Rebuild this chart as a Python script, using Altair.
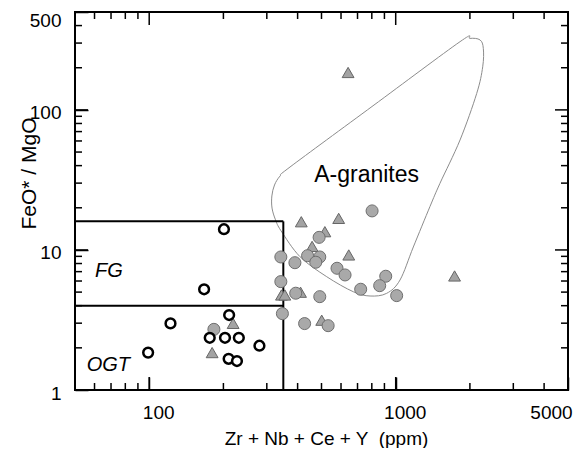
import altair as alt
import pandas as pd

FONT = "Liberation Sans"
W, H = 493, 378

# ---- data (Zr+Nb+Ce+Y ppm, FeO*/MgO) ----
open_x = [201, 167, 211, 122, 176, 203, 231, 280, 99, 210, 227]
open_y = [14.06, 5.24, 3.43, 2.99, 2.36, 2.36, 2.36, 2.07, 1.85, 1.67, 1.61]

gray_x = [802, 489, 342, 390, 439, 492, 474, 578, 623, 911, 342, 721, 861, 393, 492, 1009, 347, 427, 532, 183]
gray_y = [19.0, 12.3, 8.91, 8.11, 9.10, 8.91, 8.17, 7.40, 6.63, 6.49, 5.94, 5.24, 5.56, 4.91, 4.64, 4.72, 3.51, 2.98, 2.88, 2.71]

tri_x = [641, 414, 587, 516, 458, 645, 1733, 344, 355, 411, 501, 219, 180]
tri_y = [185, 15.9, 16.8, 13.5, 10.6, 9.21, 6.52, 4.77, 4.77, 4.99, 3.15, 2.99, 1.85]

# A-granite field outline (closed)
curve_x = [372.6, 339.4, 322.4, 314.5, 315, 325.4, 342.6, 409, 525, 673, 787, 919, 1041,
           1179, 1377, 1512, 1824, 2131, 2254, 2267, 2198, 2002, 1824, 809]
curve_y = [39.1, 33.7, 29.1, 24.3, 19.9, 16.4, 13.7, 8.95, 6.44, 5.03, 4.69, 4.90, 6.10,
           10.5, 20.4, 29.9, 61, 131, 203, 275, 316, 324, 307, 107]

# FG / OGT boxes
box_x1 = [50, 350, 50]
box_x2 = [350, 350, 350]
box_y1 = [16, 16, 4]
box_y2 = [16, 1, 4]

ann_x = [762]
ann_y = [30.7]
ann_t = ["A-granites"]

field_x = [60.3, 55.8]
field_y = [6.44, 1.374]
field_t = ["FG", "OGT"]

X_DOMAIN = [50, 5000]
Y_DOMAIN = [1, 500]
X_LABELS = [100, 1000, 5000]
X_MAJOR = [100, 1000]
X_MINOR = [60, 70, 80, 90, 200, 300, 400, 500, 600, 700, 800, 900, 2000, 3000, 4000]
Y_LABELS = [1, 10, 100, 500]
Y_MAJOR = [10, 100]
Y_MINOR = [2, 3, 4, 5, 6, 7, 8, 9, 20, 30, 40, 50, 60, 70, 80, 90, 200, 300, 400]

curve_df = pd.DataFrame({"x": curve_x, "y": curve_y, "i": list(range(len(curve_x)))})
box_df = pd.DataFrame({"x": box_x1, "x2": box_x2, "y": box_y1, "y2": box_y2})
open_df = pd.DataFrame({"x": open_x, "y": open_y})
gray_df = pd.DataFrame({"x": gray_x, "y": gray_y})
tri_df = pd.DataFrame({"x": tri_x, "y": tri_y})
ann_df = pd.DataFrame({"x": ann_x, "y": ann_y, "t": ann_t})
field_df = pd.DataFrame({"x": field_x, "y": field_y, "t": field_t})
frame_df = pd.DataFrame({"x": [X_DOMAIN[0]], "x2": [X_DOMAIN[1]],
                         "y": [Y_DOMAIN[0]], "y2": [Y_DOMAIN[1]]})

xs = alt.Scale(type="log", domain=X_DOMAIN, nice=False)
ys = alt.Scale(type="log", domain=Y_DOMAIN, nice=False)

X_TITLE = "Zr + Nb + Ce + Y \u00a0(ppm)"
Y_TITLE = "FeO* / MgO"

x_main = alt.Axis(
    orient="bottom", values=X_LABELS, tickSize=13, offset=-13, domain=False, grid=False,
    ticks=True, tickColor="black", tickWidth=1.5, labelFontSize=19, labelColor="black",
    labelFont=FONT, labelPadding=13, labelFlush=False, labelOverlap=False, format="d",
    labelOffset={"condition": {"test": "datum.value == 5000", "value": -17}, "value": 9},
    titleFont=FONT, titleFontSize=19,
    titleFontWeight="normal", titleColor="black", titleX=251, titleY=67,
    titleBaseline="alphabetic", titleAlign="center",
)
y_main = alt.Axis(
    orient="left", values=Y_LABELS, tickSize=13, offset=-13, domain=False, grid=False,
    ticks=True, tickColor="black", tickWidth=1.5, labelFontSize=19, labelColor="black",
    labelFont=FONT, labelPadding=14, labelFlush=False, labelOverlap=False, format="d",
    labelOffset={"condition": {"test": "datum.value == 500", "value": 8}, "value": 3},
    titleFont=FONT, titleFontSize=21, titleFontWeight="normal",
    titleColor="black", titleX=-53, titleY=161, titleBaseline="alphabetic",
    titleAlign="center", titleAngle=270,
)


def X(field):
    return alt.X(field, scale=xs, axis=x_main, title=X_TITLE)


def Y(field):
    return alt.Y(field, scale=ys, axis=y_main, title=Y_TITLE)


curve = alt.Chart(curve_df).mark_line(
    interpolate="cardinal-closed", color="#8c8c8c", strokeWidth=1
).encode(x=X("x:Q"), y=Y("y:Q"), order=alt.Order("i:Q"))

boxes = alt.Chart(box_df).mark_rule(color="black", strokeWidth=2).encode(
    x=X("x:Q"), x2="x2:Q", y=Y("y:Q"), y2="y2:Q",
)


def x_ticks(values, length):
    d = pd.DataFrame({"x": values})
    bottom = alt.Chart(d).mark_rule(color="black", strokeWidth=1.5).encode(
        x=X("x:Q"), y=alt.value(H), y2=alt.value(H - length))
    top = alt.Chart(d).mark_rule(color="black", strokeWidth=1.5).encode(
        x=X("x:Q"), y=alt.value(0), y2=alt.value(length))
    return [bottom, top]


def y_ticks(values, length):
    d = pd.DataFrame({"y": values})
    left = alt.Chart(d).mark_rule(color="black", strokeWidth=1.5).encode(
        y=Y("y:Q"), x=alt.value(0), x2=alt.value(length))
    right = alt.Chart(d).mark_rule(color="black", strokeWidth=1.5).encode(
        y=Y("y:Q"), x=alt.value(W), x2=alt.value(W - length))
    return [left, right]


tick_layers = (x_ticks(X_MAJOR, 13) + x_ticks(X_MINOR, 7)
               + y_ticks(Y_MAJOR, 13) + y_ticks(Y_MINOR, 7))

tris = alt.Chart(tri_df).mark_point(
    shape="triangle-up", filled=True, fill="#a3a3a3", stroke="#666666",
    strokeWidth=1, size=140, opacity=1
).encode(x=X("x:Q"), y=Y("y:Q"))

grays = alt.Chart(gray_df).mark_point(
    shape="circle", filled=True, fill="#a9a9a9", stroke="#6f6f6f",
    strokeWidth=1, size=145, opacity=1
).encode(x=X("x:Q"), y=Y("y:Q"))

opens = alt.Chart(open_df).mark_point(
    shape="circle", filled=True, fill="white", stroke="black",
    strokeWidth=2.5, size=95, opacity=1
).encode(x=X("x:Q"), y=Y("y:Q"))

ann = alt.Chart(ann_df).mark_text(
    font=FONT, fontSize=23, align="center", baseline="alphabetic", color="black"
).encode(x=X("x:Q"), y=Y("y:Q"), text="t:N")

fields = alt.Chart(field_df).mark_text(
    font=FONT, fontSize=20, fontStyle="italic", align="left",
    baseline="alphabetic", color="black"
).encode(x=X("x:Q"), y=Y("y:Q"), text="t:N")

frame = alt.Chart(frame_df).mark_rect(
    fillOpacity=0, stroke="black", strokeWidth=2
).encode(x=X("x:Q"), x2="x2:Q", y=Y("y:Q"), y2="y2:Q")

chart = alt.layer(
    curve, boxes, tris, grays, opens, ann, fields, *tick_layers, frame
).properties(
    width=W, height=H,
    padding={"left": 67, "top": 4, "right": 6, "bottom": 58},
    autosize=alt.AutoSizeParams(type="none"),
    background="white",
).configure_view(
    stroke=None
).configure_axis(
    labelFont=FONT, titleFont=FONT
)

chart.save("out.html", embed_options={"renderer": "svg", "actions": False})
